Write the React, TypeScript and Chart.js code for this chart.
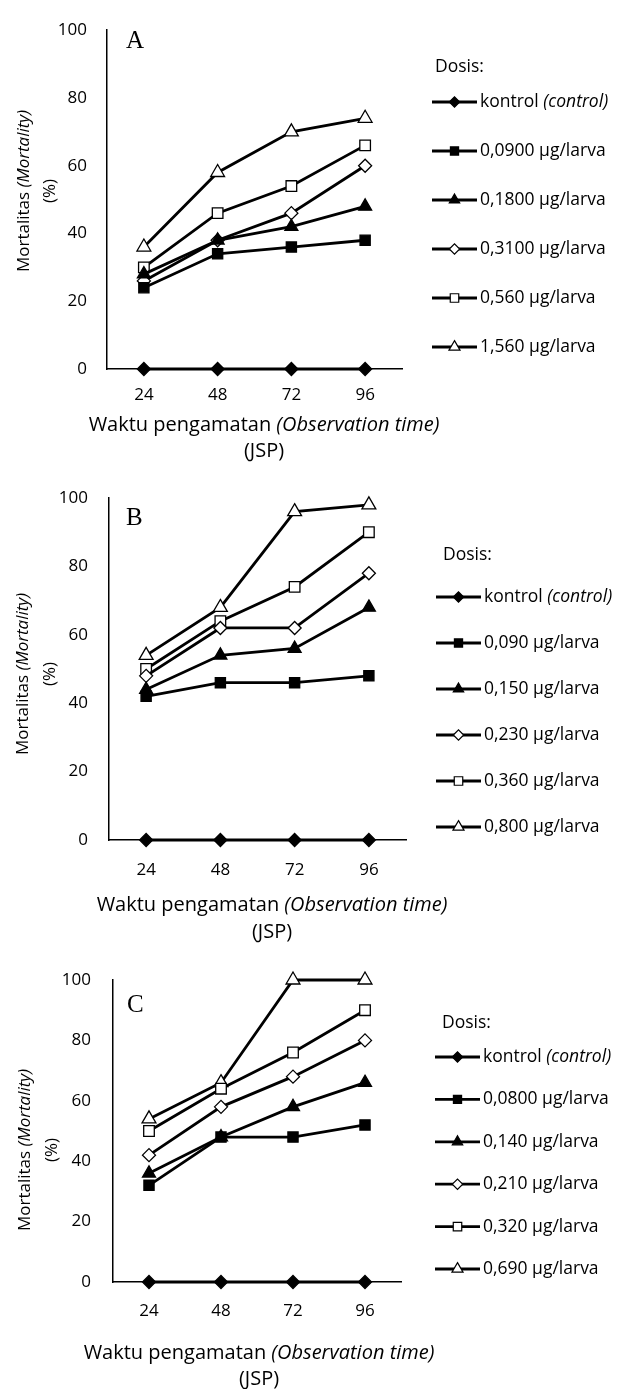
import React, { useEffect, useRef } from 'react';
import { Chart, registerables, PointElement } from 'chart.js';

Chart.register(...registerables);

// ---------- DATA ----------
const times = ['24', '48', '72', '96'];
const yTickValues = [0, 20, 40, 60, 80, 100];

const dosesA = ['kontrol (control)', '0,0900 µg/larva', '0,1800 µg/larva', '0,3100 µg/larva', '0,560 µg/larva', '1,560 µg/larva'];
const dosesB = ['kontrol (control)', '0,090 µg/larva', '0,150 µg/larva', '0,230 µg/larva', '0,360 µg/larva', '0,800 µg/larva'];
const dosesC = ['kontrol (control)', '0,0800 µg/larva', '0,140 µg/larva', '0,210 µg/larva', '0,320 µg/larva', '0,690 µg/larva'];

const controlA = [0, 0, 0, 0];
const dose1A = [24, 34, 36, 38];
const dose2A = [28, 38, 42, 48];
const dose3A = [26, 38, 46, 60];
const dose4A = [30, 46, 54, 66];
const dose5A = [36, 58, 70, 74];

const controlB = [0, 0, 0, 0];
const dose1B = [42, 46, 46, 48];
const dose2B = [44, 54, 56, 68];
const dose3B = [48, 62, 62, 78];
const dose4B = [50, 64, 74, 90];
const dose5B = [54, 68, 96, 98];

const controlC = [0, 0, 0, 0];
const dose1C = [32, 48, 48, 52];
const dose2C = [36, 48, 58, 66];
const dose3C = [42, 58, 68, 80];
const dose4C = [50, 64, 76, 90];
const dose5C = [54, 66, 100, 100];

const yTitle: [string, boolean][] = [['Mortalitas ', false], ['(Mortality)', true]];
const yTitle2 = '(%)';
const xTitle: [string, boolean][] = [['Waktu pengamatan ', false], ['(Observation time)', true]];
const xTitle2 = '(JSP)';
const legendTitle = 'Dosis:';

// ---------- STYLES ----------
const FONT = '"Open Sans", "Noto Sans", sans-serif';
const markerStyles = [
  { pointStyle: 'rectRot', fill: '#000', radius: 6.5 },
  { pointStyle: 'rect', fill: '#000', radius: 7.2 },
  { pointStyle: 'triangle', fill: '#000', radius: 7.5 },
  { pointStyle: 'rectRot', fill: '#fff', radius: 6.5 },
  { pointStyle: 'rect', fill: '#fff', radius: 7.5 },
  { pointStyle: 'triangle', fill: '#fff', radius: 8 },
];

function segs(label: string): [string, boolean][] {
  const m = label.match(/^(.*?)(\(.*\))$/);
  if (m && label.startsWith('kontrol')) return [[m[1], false], [m[2], true]];
  return [[label, false]];
}

function drawMixed(ctx: CanvasRenderingContext2D, parts: [string, boolean][], x: number, y: number, size: number, align: 'left' | 'center') {
  const fonts = parts.map(([, it]) => `${it ? 'italic ' : ''}${size}px ${FONT}`);
  let total = 0;
  const widths = parts.map(([t], i) => { ctx.font = fonts[i]; const w = ctx.measureText(t).width; total += w; return w; });
  let cx = align === 'center' ? x - total / 2 : x;
  ctx.textAlign = 'left';
  ctx.textBaseline = 'middle';
  parts.forEach(([t], i) => { ctx.font = fonts[i]; ctx.fillText(t, cx, y); cx += widths[i]; });
}

type PanelCfg = {
  letter: string;
  doses: string[];
  series: number[][];
  canvasTop: number;
  height: number;
  top: number; left: number; right: number; bottom: number;
  xPad: number; yPad: number;
  letterPos: [number, number];
  yTitleX: [number, number]; yTitleY: number;
  xTitleX: number; xTitleY: [number, number];
  legendX: number; legendTitleX: number; legendTitleY: number; legendY0: number; legendStep: number;
};

function Panel({ cfg }: { cfg: PanelCfg }) {
  const ref = useRef<HTMLCanvasElement>(null);
  useEffect(() => {
    const canvas = ref.current!;
    const overlay = {
      id: 'overlay',
      afterDraw(chart: any) {
        const ctx: CanvasRenderingContext2D = chart.ctx;
        ctx.save();
        ctx.fillStyle = '#000';
        // panel letter
        ctx.font = `25px "Liberation Serif", "Times New Roman", serif`;
        ctx.textAlign = 'left';
        ctx.textBaseline = 'alphabetic';
        ctx.fillText(cfg.letter, cfg.letterPos[0], cfg.letterPos[1]);
        // x title
        drawMixed(ctx, xTitle, cfg.xTitleX, cfg.xTitleY[0], 20, 'center');
        drawMixed(ctx, [[xTitle2, false]], cfg.xTitleX, cfg.xTitleY[1], 20, 'center');
        // y title
        ctx.save();
        ctx.translate(cfg.yTitleX[0], cfg.yTitleY);
        ctx.rotate(-Math.PI / 2);
        drawMixed(ctx, yTitle, 0, 0, 17, 'center');
        ctx.restore();
        ctx.save();
        ctx.translate(cfg.yTitleX[1], cfg.yTitleY);
        ctx.rotate(-Math.PI / 2);
        drawMixed(ctx, [[yTitle2, false]], 0, 0, 17, 'center');
        ctx.restore();
        // legend
        drawMixed(ctx, [[legendTitle, false]], cfg.legendTitleX, cfg.legendTitleY, 17.5, 'left');
        const area = { left: 0, right: 622, top: 0, bottom: 2000 };
        chart.data.datasets.forEach((ds: any, i: number) => {
          const y = cfg.legendY0 + i * cfg.legendStep;
          const x0 = cfg.legendX;
          ctx.strokeStyle = '#000';
          ctx.lineWidth = 2.8;
          ctx.beginPath();
          ctx.moveTo(x0, y);
          ctx.lineTo(x0 + 45, y);
          ctx.stroke();
          const pt: any = new (PointElement as any)({
            x: x0 + 22.5,
            y,
            options: {
              pointStyle: ds.pointStyle,
              radius: ds.pointRadius * 0.8,
              rotation: 0,
              borderWidth: 1.2,
              borderColor: '#000',
              backgroundColor: ds.pointBackgroundColor,
            },
          });
          pt.draw(ctx, area);
          ctx.fillStyle = '#000';
          drawMixed(ctx, segs(ds.label), x0 + 48, y, 17.5, 'left');
        });
        ctx.restore();
      },
    };
    const chart = new Chart(canvas, {
      type: 'line',
      data: {
        labels: times,
        datasets: cfg.series.map((vals, i) => ({
          label: cfg.doses[i],
          data: vals,
          borderColor: '#000',
          borderWidth: 2.8,
          pointStyle: markerStyles[i].pointStyle as any,
          pointRadius: markerStyles[i].radius,
          pointBackgroundColor: markerStyles[i].fill,
          pointBorderColor: '#000',
          pointBorderWidth: 1.3,
          tension: 0,
          clip: false as any,
        })),
      },
      options: {
        animation: false,
        responsive: false,
        maintainAspectRatio: false,
        layout: { padding: { top: cfg.top, right: 622 - cfg.right, left: 0, bottom: 0 } },
        plugins: { legend: { display: false }, tooltip: { enabled: false } },
        scales: {
          x: {
            type: 'category',
            offset: true,
            grid: { display: false, drawTicks: false },
            border: { display: true, color: '#000', width: 1.5 },
            ticks: { color: '#000', font: { family: FONT, size: 17 }, padding: cfg.xPad },
            afterFit: (s: any) => { s.height = cfg.height - cfg.bottom; },
          },
          y: {
            min: 0,
            max: 100,
            grid: { display: false, drawTicks: false },
            border: { display: true, color: '#000', width: 1.5 },
            afterBuildTicks: (s: any) => { s.ticks = yTickValues.map((v) => ({ value: v })); },
            ticks: { color: '#000', font: { family: FONT, size: 17 }, padding: cfg.yPad },
            afterFit: (s: any) => { s.width = cfg.left; },
          },
        },
      },
      plugins: [overlay],
    });
    return () => chart.destroy();
  }, [cfg]);
  return (
    <canvas
      ref={ref}
      width={622}
      height={cfg.height}
      style={{ position: 'absolute', left: 0, top: cfg.canvasTop, display: 'block', width: 622, height: cfg.height }}
    />
  );
}

const panels: PanelCfg[] = [
  {
    letter: 'A', doses: dosesA, series: [controlA, dose1A, dose2A, dose3A, dose4A, dose5A],
    canvasTop: 0, height: 465, top: 16, left: 107, right: 402, bottom: 369, xPad: 16, yPad: 20,
    letterPos: [126, 48], yTitleX: [24, 50], yTitleY: 191, xTitleX: 264, xTitleY: [425, 451],
    legendX: 432, legendTitleX: 435, legendTitleY: 67, legendY0: 102, legendStep: 49,
  },
  {
    letter: 'B', doses: dosesB, series: [controlB, dose1B, dose2B, dose3B, dose4B, dose5B],
    canvasTop: 465, height: 482, top: 33, left: 109, right: 406, bottom: 375, xPad: 20, yPad: 21,
    letterPos: [126, 60], yTitleX: [23, 50], yTitleY: 209, xTitleX: 272, xTitleY: [440, 467],
    legendX: 436, legendTitleX: 443, legendTitleY: 90, legendY0: 132, legendStep: 46,
  },
  {
    letter: 'C', doses: dosesC, series: [controlC, dose1C, dose2C, dose3C, dose4C, dose5C],
    canvasTop: 935, height: 454, top: 45, left: 113, right: 401, bottom: 347, xPad: 19, yPad: 22,
    letterPos: [127, 77], yTitleX: [25, 52], yTitleY: 215, xTitleX: 259, xTitleY: [418, 444],
    legendX: 435, legendTitleX: 442, legendTitleY: 88, legendY0: 122, legendStep: 42.4,
  },
];

export default function App() {
  return (
    <div style={{ position: 'absolute', left: 0, top: 0, width: 622, height: 1389, background: '#fff' }}>
      {panels.map((p) => <Panel key={p.letter} cfg={p} />)}
    </div>
  );
}
